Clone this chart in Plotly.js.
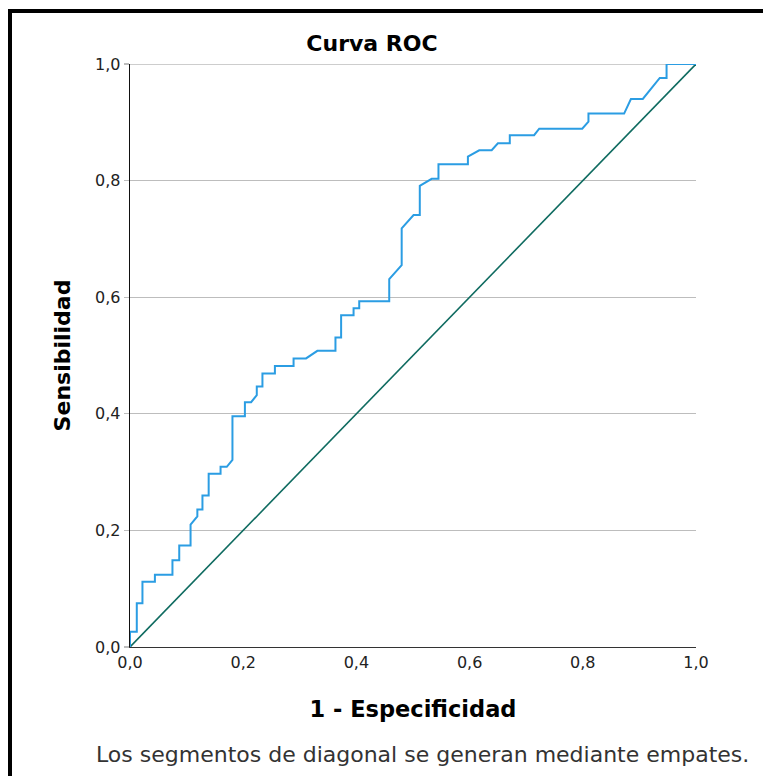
<!DOCTYPE html>
<html>
<head>
<meta charset="utf-8">
<script src="https://cdn.plot.ly/plotly-3.0.1.min.js"></script>
<style>
  html, body { margin: 0; padding: 0; background: #fff; }
  #wrap { position: relative; width: 763px; height: 776px; }
  #chart { position: absolute; left: 0; top: 0; width: 763px; height: 776px; }
  #frame { position: absolute; left: 8px; top: 9px; right: 0; bottom: 0;
           border-left: 4px solid #000; border-top: 4px solid #000; pointer-events: none; }
</style>
</head>
<body>
<div id="wrap">
  <div id="chart"></div>
  <div id="frame"></div>
</div>
<script>
// 1 - Especificidad (false positive rate)
const fpr = [0, 0, 0.012, 0.012, 0.022, 0.022, 0.044, 0.044, 0.075, 0.075,
  0.087, 0.087, 0.107, 0.107, 0.119, 0.119, 0.128, 0.128, 0.139, 0.139,
  0.160, 0.160, 0.171, 0.181, 0.181, 0.203, 0.203, 0.214, 0.224, 0.224,
  0.234, 0.234, 0.256, 0.256, 0.289, 0.289, 0.311, 0.331, 0.363, 0.363,
  0.373, 0.373, 0.395, 0.395, 0.405, 0.405, 0.458, 0.458, 0.480, 0.480,
  0.501, 0.512, 0.512, 0.533, 0.545, 0.545, 0.597, 0.597, 0.617, 0.639,
  0.650, 0.671, 0.671, 0.714, 0.723, 0.799, 0.810, 0.810, 0.873, 0.885,
  0.906, 0.936, 0.948, 0.948, 1.0];
// Sensibilidad (true positive rate)
const tpr = [0, 0.026, 0.026, 0.075, 0.075, 0.112, 0.112, 0.124, 0.124, 0.149,
  0.149, 0.174, 0.174, 0.210, 0.224, 0.236, 0.236, 0.260, 0.260, 0.297,
  0.297, 0.309, 0.309, 0.321, 0.396, 0.396, 0.420, 0.420, 0.432, 0.447,
  0.447, 0.469, 0.469, 0.482, 0.482, 0.495, 0.495, 0.508, 0.508, 0.531,
  0.531, 0.569, 0.569, 0.581, 0.581, 0.593, 0.593, 0.631, 0.655, 0.718,
  0.741, 0.741, 0.791, 0.803, 0.803, 0.828, 0.828, 0.841, 0.852, 0.852,
  0.864, 0.864, 0.878, 0.878, 0.889, 0.889, 0.901, 0.915, 0.915, 0.940,
  0.940, 0.976, 0.976, 1.0, 1.0];
// Reference line
const diagX = [0, 1];
const diagY = [0, 1];
const tickVals = [0, 0.2, 0.4, 0.6, 0.8, 1.0];

const titleText = "Curva ROC";
const xTitle = "1 - Especificidad";
const yTitle = "Sensibilidad";
const footnote = "Los segmentos de diagonal se generan mediante empates.";

const FONT = "DejaVu Sans, Verdana, sans-serif";
const GRID = "#bdbdbd";

const traces = [
  { x: diagX, y: diagY, type: "scatter", mode: "lines",
    line: { color: "#0f6b60", width: 1.6 }, hoverinfo: "skip", showlegend: false },
  { x: fpr, y: tpr, type: "scatter", mode: "lines",
    line: { color: "#2b9de3", width: 2 }, showlegend: false }
];

const topTick = Math.max(...tickVals);

const layout = {
  width: 763, height: 776,
  margin: { l: 130, r: 67, t: 64, b: 129 },
  paper_bgcolor: "#ffffff", plot_bgcolor: "#ffffff",
  separators: ",.",
  font: { family: FONT, color: "#222", size: 16 },
  title: { text: titleText, xref: "container", yref: "container",
           x: 372 / 763, y: 1 - 43 / 776, xanchor: "center", yanchor: "middle",
           font: { family: FONT, size: 22, color: "#000", weight: "bold" } },
  xaxis: { range: [0, 1], tickvals: tickVals, tickformat: ".1f",
           showgrid: false, zeroline: false, showline: true, linecolor: "#333", linewidth: 1.3,
           ticks: "", tickfont: { family: FONT, size: 16, color: "#222" },
           title: { text: xTitle, standoff: 30,
                    font: { family: FONT, size: 22.5, color: "#000", weight: "bold" } },
           fixedrange: true },
  yaxis: { range: [0, 1], tickvals: tickVals, tickformat: ".1f",
           showgrid: true, gridcolor: GRID, gridwidth: 1.3, zeroline: false,
           showline: true, linecolor: "#111", linewidth: 1.3,
           ticks: "outside", ticklen: 5, tickcolor: GRID, tickwidth: 1.3,
           tickfont: { family: FONT, size: 16, color: "#222" },
           title: { text: yTitle, standoff: 18,
                    font: { family: FONT, size: 22, color: "#000", weight: "bold" } },
           fixedrange: true },
  shapes: [
    { type: "line", xref: "paper", yref: "y", x0: 0, x1: 1, y0: topTick, y1: topTick,
      line: { color: GRID, width: 1.3 }, layer: "below" }
  ],
  annotations: [
    { text: footnote, xref: "paper", yref: "paper",
      x: (94 - 130) / 566, y: (647 - 754) / 583, xanchor: "left", yanchor: "middle",
      showarrow: false, font: { family: FONT, size: 22, color: "#333" } }
  ]
};

Plotly.newPlot("chart", traces, layout, { displayModeBar: false, staticPlot: true });
</script>
</body>
</html>
